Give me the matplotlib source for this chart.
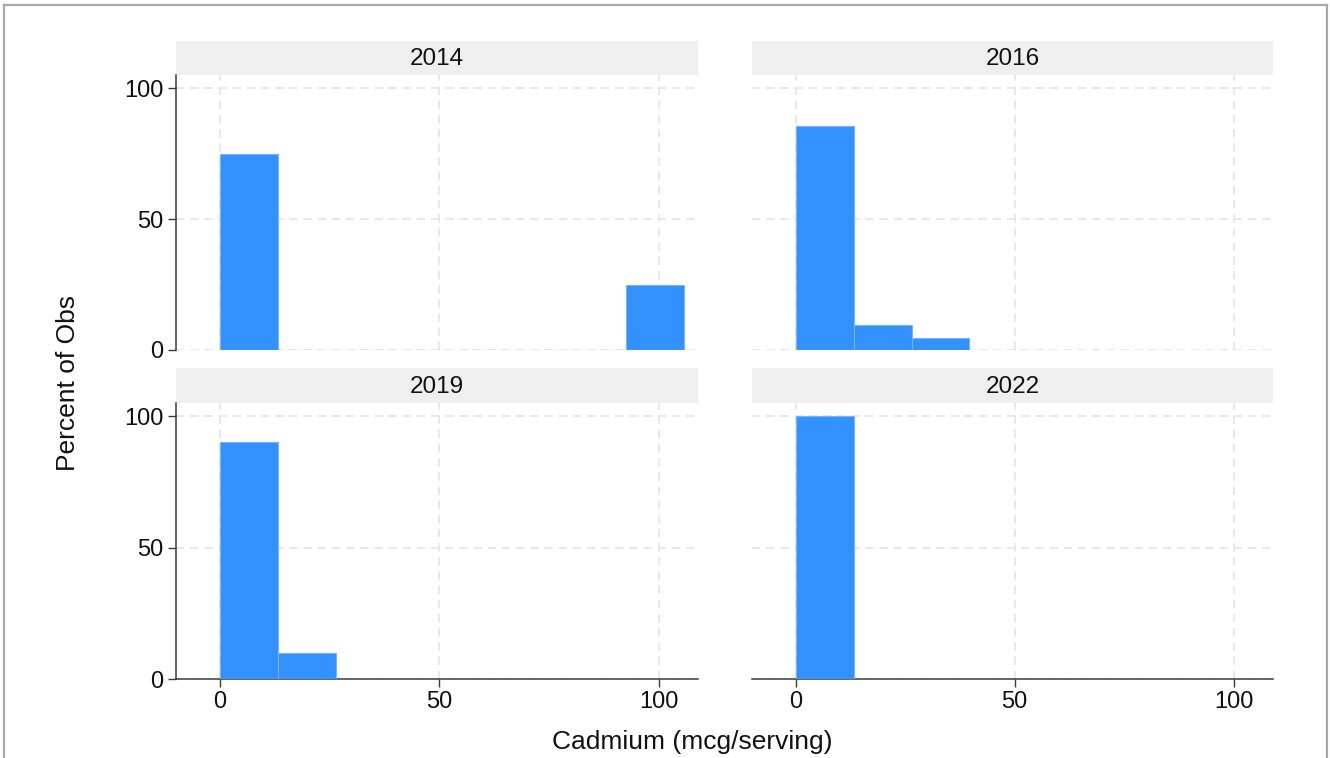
import matplotlib
matplotlib.use("Agg")
import matplotlib.pyplot as plt
from matplotlib.lines import Line2D

plt.rcParams['font.family'] = ['Liberation Sans', 'DejaVu Sans']

# Histogram of cadmium per serving, by survey year (percent of observations)
years = ["2014", "2016", "2019", "2022"]
bin_width = 13.22
pct_2014 = [75.0, 0, 0, 0, 0, 0, 0, 25.0]
pct_2016 = [85.71, 9.52, 4.76]
pct_2019 = [90.0, 10.0]
pct_2022 = [100.0]
series = [pct_2014, pct_2016, pct_2019, pct_2022]

x_ticks = [0, 50, 100]
y_ticks = [0, 50, 100]

bar_color = "#3391ff"
edge_color = "#74b3ff"
grid_color = "#e4e4e4"
axis_color = "#3a3a3a"
strip_color = "#efefef"

W, H = 1330, 758
fig = plt.figure(figsize=(W / 100, H / 100), dpi=100)
fig.patch.set_facecolor("white")

def fx(px):
    return px / W

def fy(px):
    return 1 - px / H

cols = [(176, 698), (752, 1273)]
rows = [((41, 75), (75, 350)), ((368, 403), (403, 679))]

for i, (year, pct) in enumerate(zip(years, series)):
    r, c = divmod(i, 2)
    x0, x1 = cols[c]
    (s0, s1), (a0, a1) = rows[r]

    # panel header strip
    sax = fig.add_axes([fx(x0), fy(s1), fx(x1 - x0), (s1 - s0) / H])
    sax.set_facecolor(strip_color)
    for sp in sax.spines.values():
        sp.set_visible(False)
    sax.set_xticks([])
    sax.set_yticks([])
    sax.text(0.5, 0.47, year, ha="center", va="center", fontsize=17.5,
             color="#111111", transform=sax.transAxes)

    ax = fig.add_axes([fx(x0), fy(a1), fx(x1 - x0), (a1 - a0) / H])
    ax.set_xlim(-10, 109)
    ax.set_ylim(0, 105)
    lefts = [k * bin_width for k in range(len(pct))]
    ax.bar(lefts, pct, width=bin_width, align="edge", color=bar_color,
           edgecolor=edge_color, linewidth=0.8, zorder=3)

    ax.set_xticks(x_ticks)
    ax.set_yticks(y_ticks)
    ax.grid(True, color=grid_color, linestyle=(0, (5, 3.5)), linewidth=1.2, zorder=0)
    ax.set_axisbelow(True)
    for side in ("top", "right"):
        ax.spines[side].set_visible(False)
    ax.spines["left"].set_color(axis_color)
    ax.spines["bottom"].set_color(axis_color)
    ax.spines["left"].set_linewidth(1.1)
    ax.spines["bottom"].set_linewidth(1.1)
    ax.tick_params(axis="both", direction="out", length=6, width=1.0,
                   color=axis_color, labelsize=17, labelcolor="#111111", pad=3)

    if c == 1:
        ax.spines["left"].set_visible(False)
        ax.tick_params(axis="y", left=False, labelleft=False)
    if r == 0:
        ax.spines["bottom"].set_visible(False)
        ax.tick_params(axis="x", bottom=False, labelbottom=False)

fig.text(fx(68), fy(383), "Percent of Obs", rotation=90, ha="center",
         va="center", fontsize=19, color="#111111")
fig.text(fx(692), fy(742), "Cadmium (mcg/serving)", ha="center",
         va="center", fontsize=19, color="#111111")

# outer frame
frame_kw = dict(color="#a8a8a8", linewidth=1.6, transform=fig.transFigure)
fig.add_artist(Line2D([fx(4), fx(4)], [fy(5), 0], **frame_kw))
fig.add_artist(Line2D([fx(4), fx(1327)], [fy(5), fy(5)], **frame_kw))
fig.add_artist(Line2D([fx(1327), fx(1327)], [fy(5), 0], **frame_kw))

fig.savefig("out.png", dpi=100, facecolor="white")
